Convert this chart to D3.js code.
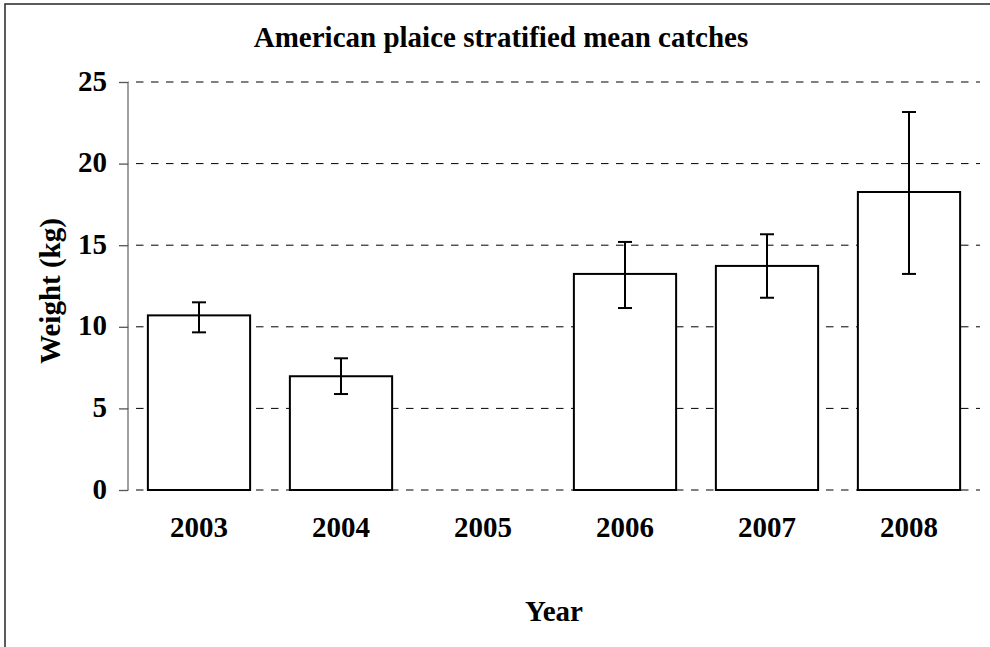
<!DOCTYPE html>
<html>
<head>
<meta charset="utf-8">
<script src="https://cdn.jsdelivr.net/npm/d3@7"></script>
<style>
  html, body { margin: 0; padding: 0; background: #fff; }
  svg { display: block; }
  text { font-family: "Liberation Serif", "Times New Roman", serif; font-weight: bold; fill: #000; }
</style>
</head>
<body>
<svg id="chart" width="990" height="647"></svg>
<script>
const years = ["2003", "2004", "2005", "2006", "2007", "2008"];
const means = [10.7, 6.97, null, 13.24, 13.73, 18.26];
const upper = [11.5, 8.07, null, 15.2, 15.67, 23.16];
const lower = [9.66, 5.88, null, 11.15, 11.78, 13.24];
const yTicks = [0, 5, 10, 15, 20, 25];
const title = "American plaice stratified mean catches";
const xTitle = "Year";
const yTitle = "Weight (kg)";

const svg = d3.select("#chart");
const W = 990, H = 647;
const FS = 29;

// outer frame (extends beyond right and bottom edges)
svg.append("rect")
  .attr("x", 5).attr("y", 4)
  .attr("width", W + 10).attr("height", H + 10)
  .attr("fill", "#fff").attr("stroke", "#333").attr("stroke-width", 1.6);

const x = d3.scaleBand().domain(years).range([128, 980])
  .paddingInner(0.28).paddingOuter(0.14);
const y = d3.scaleLinear().domain([0, 25]).range([490, 82]);

// gridlines
svg.append("g").selectAll("line").data(yTicks).join("line")
  .attr("x1", 128).attr("x2", 980)
  .attr("y1", d => y(d)).attr("y2", d => y(d))
  .attr("stroke", "#000").attr("stroke-width", 1)
  .attr("stroke-dasharray", "7.5,7.5")
  .attr("stroke-dashoffset", -8);

// y axis
const yAxis = d3.axisLeft(y).tickValues(yTicks).tickSize(9).tickPadding(12);
const ga = svg.append("g").attr("transform", "translate(128,0)").call(yAxis);
ga.select(".domain").attr("stroke", "#808080").attr("stroke-width", 1.5)
  .attr("d", `M0,${y(25)}V${y(0)}`);
ga.selectAll(".tick line").attr("stroke", "#555").attr("stroke-width", 1.3);
ga.selectAll(".tick text")
  .attr("font-size", FS).attr("font-family", "Liberation Serif").attr("font-weight", "bold")
  .attr("fill", "#000").attr("dy", null).attr("y", 8).attr("x", -21);

// bars
const data = years.map((yr, i) => ({ yr, m: means[i], hi: upper[i], lo: lower[i] }))
  .filter(d => d.m !== null);

svg.append("g").selectAll("rect").data(data).join("rect")
  .attr("x", d => x(d.yr))
  .attr("y", d => y(d.m))
  .attr("width", x.bandwidth())
  .attr("height", d => y(0) - y(d.m))
  .attr("fill", "#fff").attr("stroke", "#000").attr("stroke-width", 2);

// error bars
const eb = svg.append("g").attr("stroke", "#000").attr("stroke-width", 2);
data.forEach(d => {
  const cx = x(d.yr) + x.bandwidth() / 2;
  eb.append("line").attr("x1", cx).attr("x2", cx).attr("y1", y(d.hi)).attr("y2", y(d.lo));
  eb.append("line").attr("x1", cx - 7).attr("x2", cx + 7).attr("y1", y(d.hi)).attr("y2", y(d.hi));
  eb.append("line").attr("x1", cx - 7).attr("x2", cx + 7).attr("y1", y(d.lo)).attr("y2", y(d.lo));
});

// x labels
svg.append("g").selectAll("text").data(years).join("text")
  .attr("x", d => x(d) + x.bandwidth() / 2)
  .attr("y", 537)
  .attr("text-anchor", "middle")
  .attr("font-size", FS)
  .text(d => d);

// titles
svg.append("text").attr("x", 501).attr("y", 47).attr("text-anchor", "middle")
  .attr("font-size", FS).text(title);
svg.append("text").attr("x", 554).attr("y", 621).attr("text-anchor", "middle")
  .attr("font-size", FS).text(xTitle);
svg.append("text").attr("transform", "translate(60,291) rotate(-90)")
  .attr("text-anchor", "middle").attr("font-size", FS).text(yTitle);
</script>
</body>
</html>
